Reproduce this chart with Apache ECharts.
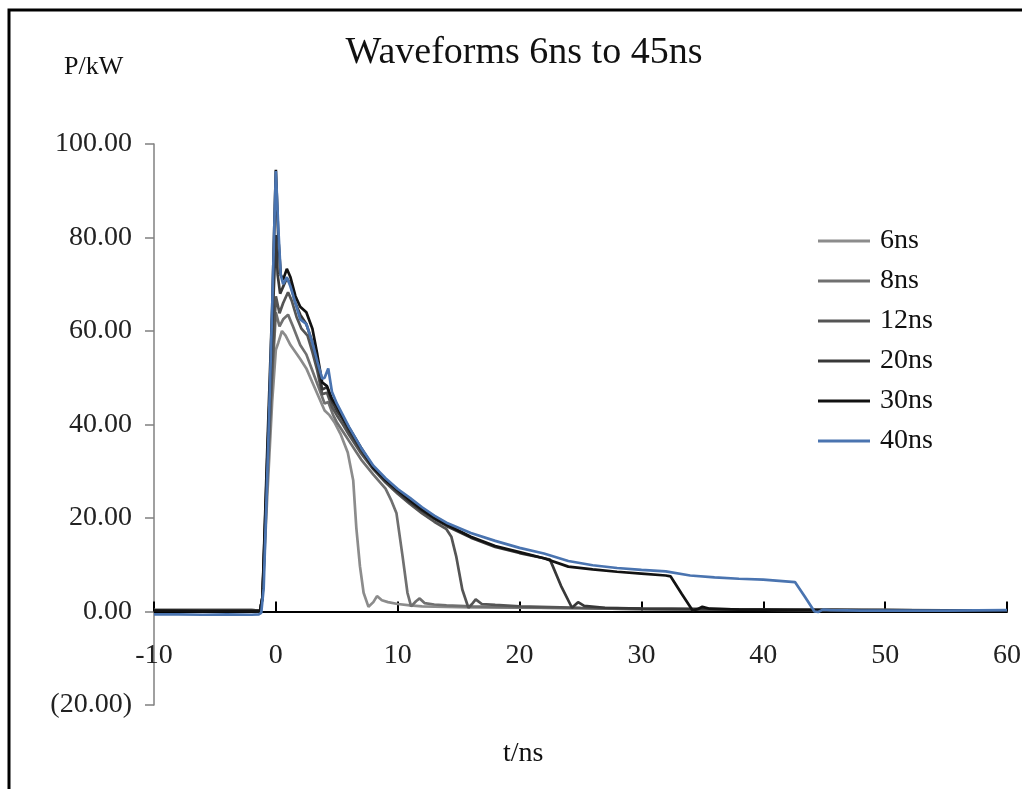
<!DOCTYPE html>
<html>
<head>
<meta charset="utf-8">
<script src="https://cdn.jsdelivr.net/npm/echarts@6/dist/echarts.min.js"></script>
<style>html,body{margin:0;padding:0;background:#fff}#c{width:1022px;height:789px}</style>
</head>
<body>
<div id="c"></div>
<script>
// ---- data ----
const seriesNames = ['6ns', '8ns', '12ns', '20ns', '30ns', '40ns'];
const xTicks = [-10, 0, 10, 20, 30, 40, 50, 60];
const yTicks = [-20, 0, 20, 40, 60, 80, 100];

const t6 = [-10, -2, -1.3, -1.1, -0.7, -0.3, 0, 0.2, 0.5, 0.8, 1.2, 1.6, 2.0, 2.5, 3.0, 3.5, 4.0, 4.4, 4.8, 5.3, 5.9, 6.35, 6.6, 6.9, 7.2, 7.6, 8.0, 8.3, 8.7, 9.2, 10, 11, 12, 14, 16, 20, 25, 30, 40, 50, 60];
const p6 = [0.3, 0.3, 0.2, 3, 25, 45, 56, 57.5, 60, 59, 57, 55.5, 54, 52, 49, 46, 43, 42, 40.5, 38, 34, 28, 18, 9.7, 4, 1.0, 2.0, 3.3, 2.4, 2.0, 1.6, 1.3, 1.1, 1.0, 0.9, 0.8, 0.7, 0.5, 0.4, 0.3, 0.2];

const t8 = [-10, -2, -1.3, -1.1, -0.7, -0.3, 0, 0.3, 0.6, 1.0, 1.4, 2.0, 2.5, 3.0, 3.5, 4.0, 4.3, 4.7, 5.0, 5.5, 6, 7, 8, 9, 9.5, 9.9, 10.4, 10.8, 11.1, 11.5, 11.8, 12.2, 13, 14, 16, 20, 25, 30, 40, 50, 60];
const p8 = [0.3, 0.3, 0.2, 3, 28, 50, 64, 61, 62.5, 63.5, 61, 57, 55, 51.5, 48, 44.5, 44.8, 42, 40.5, 38.5, 36.5, 32.5, 29.3, 26.3, 23.6, 21, 11.8, 4, 1.1, 2.2, 2.8, 1.8, 1.5, 1.3, 1.1, 0.9, 0.7, 0.5, 0.4, 0.3, 0.2];

const t12 = [-10, -2, -1.3, -1.1, -0.7, -0.3, 0, 0.3, 0.6, 1.0, 1.3, 1.7, 2.1, 2.6, 3.0, 3.4, 3.8, 4.2, 4.6, 5.0, 5.5, 6, 7, 8, 9, 10, 11, 12, 13, 14.0, 14.4, 14.8, 15.3, 15.8, 16.1, 16.4, 16.9, 18, 20, 25, 30, 35, 40, 45, 50, 55, 60];
const p12 = [0.3, 0.3, 0.2, 3, 30, 52, 67.4, 63.8, 66, 68.3, 66.5, 63, 60.5, 59, 55.5, 51.5, 46.5, 46.8, 43.8, 42, 40, 37.8, 33.8, 30.4, 27.6, 25.2, 23.0, 21.0, 19.2, 17.6, 16, 11.8, 4.7, 0.8, 1.6, 2.6, 1.6, 1.4, 1.1, 0.8, 0.6, 0.5, 0.4, 0.3, 0.3, 0.2, 0.2];

const t20 = [-10, -2, -1.3, -1.1, -0.7, -0.3, 0, 0.15, 0.35, 0.6, 0.9, 1.2, 1.6, 2.0, 2.5, 3.0, 3.4, 3.8, 4.2, 4.6, 5.0, 5.5, 6, 7, 8, 9, 10, 11, 12, 13, 14, 16, 18, 20, 22, 22.5, 23.4, 24.3, 24.8, 25.3, 27, 30, 35, 40, 45, 50, 55, 60];
const p20 = [0.2, 0.2, 0.1, 3, 33, 60, 80.5, 72, 68, 69.5, 71.3, 70, 66, 63.5, 61.5, 57.5, 53, 47.5, 48, 45, 43, 41, 38.7, 34.5, 30.6, 27.9, 25.6, 23.4, 21.5, 19.8, 18.3, 15.8, 13.8, 12.5, 11.4, 11.1, 5.5, 0.8, 2.0, 1.2, 0.8, 0.6, 0.5, 0.4, 0.3, 0.3, 0.2, 0.2];

const t30 = [-10, -6, -2, -1.3, -1.1, -0.7, -0.3, -0.1, 0, 0.2, 0.4, 0.6, 0.9, 1.2, 1.6, 2.0, 2.5, 3.0, 3.4, 3.8, 4.2, 4.6, 5.0, 5.5, 6, 7, 8, 9, 10, 11, 12, 13, 14, 16, 18, 20, 22, 24, 26, 28, 30, 32, 32.4, 33.3, 34.2, 34.6, 35.0, 35.6, 38, 42, 46, 50, 55, 60];
const p30 = [0.2, 0.1, 0.1, 0.1, 3, 35, 65, 85, 94.5, 80, 72, 71, 73.3, 71.5, 67.5, 65.2, 64, 60.5, 55, 49, 48.2, 45.5, 44, 41.5, 39.3, 35, 30.8, 28.2, 26, 23.8, 21.8, 20.0, 18.6, 16.0, 14.0, 12.7, 11.4, 9.6, 9.0, 8.5, 8.1, 7.7, 7.5, 3.8, 0.2, 0.5, 1.0, 0.6, 0.4, 0.3, 0.3, 0.2, 0.2, 0.2];

const t40 = [-10, -8, -6, -4, -2, -1.4, -1.2, -1.0, -0.6, -0.3, -0.1, 0, 0.2, 0.4, 0.6, 0.9, 1.2, 1.6, 2.0, 2.5, 3.0, 3.4, 3.8, 4.0, 4.3, 4.6, 5.0, 5.5, 6, 7, 8, 9, 10, 11, 12, 13, 14, 16, 18, 20, 22, 24, 26, 28, 30, 32, 34, 36, 38, 40, 42.6, 43.4, 44.2, 44.5, 44.9, 45.5, 48, 50, 55, 60];
const p40 = [-0.6, -0.6, -0.7, -0.6, -0.7, -0.6, -0.3, 5, 38, 65, 85, 94.2, 82, 72, 70, 71.5, 69.5, 66, 62.5, 61.5, 57.5, 53.5, 49.8, 50, 52, 47, 44.5, 42, 39.5, 35, 31.2, 28.5, 26.2, 24.3, 22.3, 20.5, 19, 16.8, 15.1, 13.6, 12.4, 10.8, 9.9, 9.3, 8.9, 8.6, 7.7, 7.3, 7.0, 6.8, 6.3, 3.2, 0.0, -0.1, 0.4, 0.3, 0.2, 0.2, 0.2, 0.3];

const seriesT = [t6, t8, t12, t20, t30, t40];
const seriesP = [p6, p8, p12, p20, p30, p40];
const colors = ['#8c8c8c', '#707070', '#555555', '#383838', '#121212', '#4a74b0'];

// ---- chart ----
const FONT = 'Liberation Serif';
const GRID_TOP = 144, GRID_BOTTOM = 84, H = 789;
const yMin = yTicks[0], yMax = yTicks[yTicks.length - 1];
// place the x axis on the y = 0 line
const plotH = H - GRID_TOP - GRID_BOTTOM;
const xAxisOffset = -plotH * (0 - yMin) / (yMax - yMin);

const chart = echarts.init(document.getElementById('c'), null, {renderer: 'canvas'});
const fmtY = v => v < 0 ? '(' + Math.abs(v).toFixed(2) + ')' : v.toFixed(2);

chart.setOption({
  animation: false,
  backgroundColor: '#ffffff',
  color: colors,
  title: {
    text: 'Waveforms 6ns to 45ns',
    left: 519, top: 29, textAlign: 'center',
    textStyle: {fontFamily: FONT, fontSize: 38, fontWeight: 'normal', color: '#111'}
  },
  legend: {
    data: seriesNames,
    orient: 'vertical',
    left: 813, top: 222,
    icon: 'rect',
    itemWidth: 52, itemHeight: 3,
    itemGap: 12,
    textStyle: {fontFamily: FONT, fontSize: 28, color: '#111', lineHeight: 28, padding: [0, 0, 0, 5]}
  },
  grid: {left: 154, right: 15, top: GRID_TOP, bottom: GRID_BOTTOM, containLabel: false, outerBoundsMode: 'none'},
  xAxis: {
    type: 'value', min: xTicks[0], max: xTicks[xTicks.length - 1], interval: 10,
    position: 'bottom', offset: xAxisOffset,
    splitLine: {show: false},
    axisLine: {onZero: false, lineStyle: {color: '#000', width: 2}},
    axisTick: {inside: true, length: 10, lineStyle: {color: '#000', width: 2}},
    axisLabel: {fontFamily: FONT, fontSize: 28, color: '#222', margin: 30}
  },
  yAxis: {
    type: 'value', min: yMin, max: yMax, interval: 20,
    splitLine: {show: false},
    axisLine: {show: true, onZero: false, lineStyle: {color: '#808080', width: 1.5}},
    axisTick: {show: true, inside: false, length: 9, lineStyle: {color: '#808080', width: 1.5}},
    axisLabel: {fontFamily: FONT, fontSize: 28, color: '#222', margin: 22, formatter: fmtY}
  },
  graphic: [
    {type: 'rect', shape: {x: 9, y: 10, width: 1200, height: 1000}, style: {fill: 'none', stroke: '#000', lineWidth: 3}, silent: true},
    {type: 'text', left: 64, top: 54, style: {text: 'P/kW', font: '26px "Liberation Serif"', fill: '#111'}},
    {type: 'text', left: 503, top: 740, style: {text: 't/ns', font: '28px "Liberation Serif"', fill: '#111'}}
  ],
  series: seriesNames.map((name, k) => ({
    name: name,
    type: 'line',
    showSymbol: false,
    symbol: 'none',
    smooth: false,
    lineStyle: {width: 2.7, color: colors[k]},
    itemStyle: {color: colors[k]},
    data: seriesT[k].map((t, i) => [t, seriesP[k][i]]),
    z: 2 + k
  }))
});
</script>
</body>
</html>
